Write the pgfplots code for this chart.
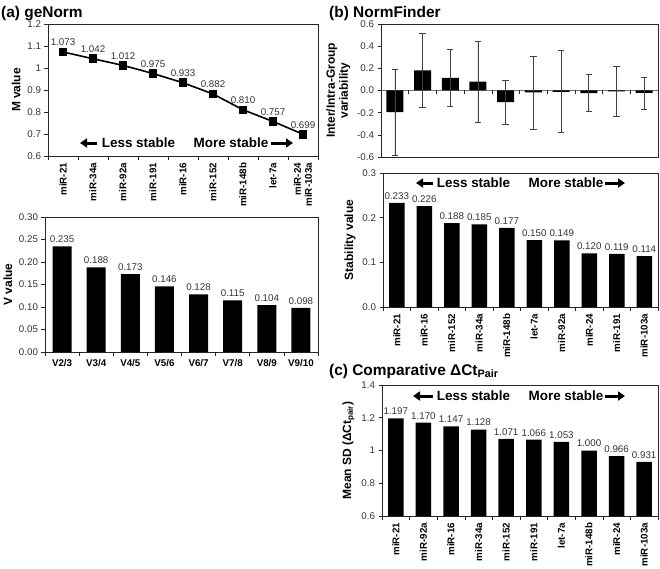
\documentclass[border=0pt]{standalone}
\usepackage{pgfplots}
\pgfplotsset{compat=1.18}
\usepackage{fontspec}
\setmainfont{Liberation Sans}
\usetikzlibrary{arrows.meta}
\newcommand{\tickfont}{\fontsize{9.8}{11}\selectfont}
\newcommand{\labfont}{\fontsize{12}{13}\selectfont\bfseries}
\newcommand{\stabfont}{\fontsize{13.5}{15}\selectfont\bfseries}
\newcommand{\titfont}{\fontsize{15.5}{17}\selectfont\bfseries}
\pgfplotsset{
  base/.style={
    scale only axis, anchor=south west,
    /pgf/number format/assume math mode=true,
    axis line style={black!85, line width=0.8pt},
    tick style={black!85, line width=0.6pt},
    tick align=outside,
    xtick pos=bottom, ytick pos=left,
    major tick length=3.5bp, minor tick length=3.5bp,
    yticklabel style={font=\tickfont, text=black!80},
    xticklabel style={font=\tickfont\bfseries, text=black},
    ylabel style={font=\labfont, align=center},
    enlarge x limits=false,
    major x tick style={draw=none},
    clip=false,
  },
  vals/.style={
    nodes near coords={\pgfmathprintnumber[fixed,zerofill,precision=3]{\pgfplotspointmeta}},
    every node near coord/.append style={font=\tickfont, text=black!80},
  },
}
\begin{document}
\begin{tikzpicture}
\useasboundingbox (0,0) rectangle (660bp,-569bp);

% (a) top: M value
\begin{axis}[base, vals, at={(48bp,-156bp)}, width=270bp, height=132bp,
  xmin=-0.5, xmax=8.5, ymin=0.6, ymax=1.2,
  ytick={0.6,0.7,0.8,0.9,1,1.1,1.2},
  xtick={0,1,2,3,4,5,6,7,8},
  xticklabels={miR-21,miR-34a,miR-92a,miR-191,miR-16,miR-152,miR-148b,let-7a,{miR-24\\miR-103a}},
  minor xtick={-0.5,0.5,1.5,2.5,3.5,4.5,5.5,6.5,7.5,8.5},
  xticklabel style={rotate=90, anchor=east, align=right},
  ylabel={M value},
  every node near coord/.append style={anchor=south, yshift=2bp},
]
\addplot[black, line width=1.6bp, mark=square*, mark size=3.5bp] coordinates {
(0,1.073) (1,1.042) (2,1.012) (3,0.975) (4,0.933) (5,0.882) (6,0.810) (7,0.757) (8,0.699)};
\end{axis}

% (a) bottom: V value
\begin{axis}[base, vals, ybar, bar width=19bp, at={(45bp,-352bp)}, width=273bp, height=135bp,
  xmin=-0.5, xmax=7.5, ymin=0, ymax=0.3,
  ytick={0,0.05,0.1,0.15,0.2,0.25,0.3},
  yticklabel style={/pgf/number format/.cd, fixed, zerofill, precision=2},
  xtick={0,1,2,3,4,5,6,7},
  xticklabels={V2/3,V3/4,V4/5,V5/6,V6/7,V7/8,V8/9,V9/10},
  minor xtick={-0.5,0.5,1.5,2.5,3.5,4.5,5.5,6.5,7.5},
  ylabel={V value},
]
\addplot[fill=black, draw=none] coordinates {
(0,0.235) (1,0.188) (2,0.173) (3,0.146) (4,0.128) (5,0.115) (6,0.104) (7,0.098)};
\end{axis}

% (b) top: inter/intra-group variability
\begin{axis}[base, ybar, bar width=17bp, at={(381bp,-157bp)}, width=277bp, height=133bp,
  xmin=-0.5, xmax=9.5, ymin=-0.6, ymax=0.6,
  ytick={-0.6,-0.4,-0.2,0,0.2,0.4,0.6},
  yticklabel style={/pgf/number format/.cd, fixed, zerofill, precision=1},
  xtick=\empty,
  ylabel={Inter/Intra-Group\\variability},
]
\draw[black!55, line width=0.9pt] (axis cs:-0.5,0) -- (axis cs:9.5,0);
\pgfplotsinvokeforeach{-0.5,0.5,1.5,2.5,3.5,4.5,5.5,6.5,7.5,8.5,9.5}{
  \draw[black!85, line width=0.6pt] (axis cs:#1,0) -- (axis cs:#1,-0.03);}
\addplot[fill=black, draw=none,
  error bars/.cd, y dir=both, y explicit,
  error bar style={black!75, line width=0.7pt},
  error mark options={rotate=90, mark size=3.2bp, black!75, line width=0.7pt}]
coordinates {
(0,-0.195) +- (0,0.390)
(1,0.182) +- (0,0.335)
(2,0.114) +- (0,0.259)
(3,0.081) +- (0,0.364)
(4,-0.105) +- (0,0.199)
(5,-0.018) +- (0,0.328)
(6,-0.012) +- (0,0.370)
(7,-0.024) +- (0,0.166)
(8,-0.008) +- (0,0.228)
(9,-0.022) +- (0,0.145)};
\end{axis}

% (b) bottom: stability value
\begin{axis}[base, vals, ybar, bar width=15.5bp, at={(383bp,-307bp)}, width=275bp, height=134bp,
  xmin=-0.5, xmax=9.5, ymin=0, ymax=0.3,
  ytick={0,0.1,0.2,0.3},
  yticklabel style={/pgf/number format/.cd, fixed, zerofill, precision=1},
  xtick={0,1,2,3,4,5,6,7,8,9},
  xticklabels={miR-21,miR-16,miR-152,miR-34a,miR-148b,let-7a,miR-92a,miR-24,miR-191,miR-103a},
  minor xtick={-0.5,0.5,1.5,2.5,3.5,4.5,5.5,6.5,7.5,8.5,9.5},
  xticklabel style={rotate=90, anchor=east},
  ylabel={Stability value},
]
\addplot[fill=black, draw=none] coordinates {
(0,0.233) (1,0.226) (2,0.188) (3,0.185) (4,0.177) (5,0.150) (6,0.149) (7,0.120) (8,0.119) (9,0.114)};
\end{axis}

% (c) comparative delta Ct
\begin{axis}[base, vals, ybar, bar width=15.5bp, at={(382bp,-516bp)}, width=276bp, height=131bp,
  clip=true,
  xmin=-0.5, xmax=9.5, ymin=0.6, ymax=1.4,
  ytick={0.6,0.8,1,1.2,1.4},
  xtick={0,1,2,3,4,5,6,7,8,9},
  xticklabels={miR-21,miR-92a,miR-16,miR-34a,miR-152,miR-191,let-7a,miR-148b,miR-24,miR-103a},
  minor xtick={-0.5,0.5,1.5,2.5,3.5,4.5,5.5,6.5,7.5,8.5,9.5},
  xticklabel style={rotate=90, anchor=east},
  ylabel={Mean SD (ΔCt\textsubscript{pair})},
]
\addplot[fill=black, draw=none] coordinates {
(0,1.197) (1,1.170) (2,1.147) (3,1.128) (4,1.071) (5,1.066) (6,1.053) (7,1.000) (8,0.966) (9,0.931)};
\end{axis}

% titles
\node[anchor=base west, font=\titfont, inner sep=0pt] at (1bp,-17bp) {(a) geNorm};
\node[anchor=base west, font=\titfont, inner sep=0pt] at (329bp,-17bp) {(b) NormFinder};
\node[anchor=base west, font=\titfont, inner sep=0pt] at (329bp,-375bp) {(c) Comparative ΔCt\textsubscript{Pair}};

% stability annotations
\tikzset{stabarrow/.style={line width=3bp, -{Triangle[length=7bp,width=9bp]}}}
% (a)
\draw[stabarrow] (97bp,-143bp) -- (80bp,-143bp);
\node[font=\stabfont, inner sep=0pt] at (138.5bp,-143bp) {Less stable};
\node[font=\stabfont, inner sep=0pt] at (231bp,-143bp) {More stable};
\draw[stabarrow] (271bp,-143bp) -- (293bp,-143bp);
% (b)
\draw[stabarrow] (433bp,-183bp) -- (416bp,-183bp);
\node[font=\stabfont, inner sep=0pt] at (473.5bp,-183bp) {Less stable};
\node[font=\stabfont, inner sep=0pt] at (566bp,-183bp) {More stable};
\draw[stabarrow] (605bp,-183bp) -- (625bp,-183bp);
% (c)
\draw[stabarrow] (433bp,-396bp) -- (413bp,-396bp);
\node[font=\stabfont, inner sep=0pt] at (473.5bp,-396bp) {Less stable};
\node[font=\stabfont, inner sep=0pt] at (566bp,-396bp) {More stable};
\draw[stabarrow] (605bp,-396bp) -- (625bp,-396bp);
\end{tikzpicture}
\end{document}
